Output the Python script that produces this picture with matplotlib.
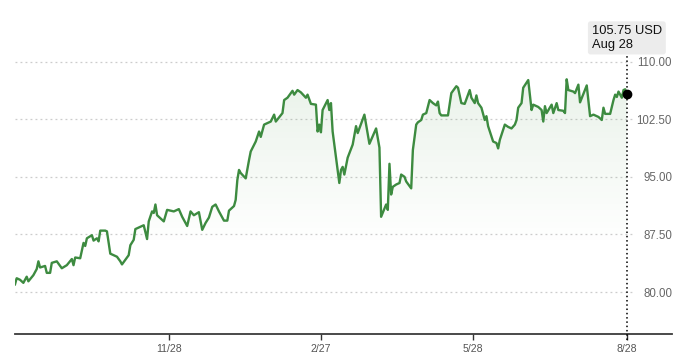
import numpy as np
import pandas as pd
import matplotlib
matplotlib.use("Agg")
import matplotlib.pyplot as plt
import matplotlib.dates as mdates
import matplotlib.transforms as mtransforms
from matplotlib.ticker import FuncFormatter

plt.rcParams['font.family'] = ['Liberation Sans', 'DejaVu Sans']

# data: days since 2023-08-28 and closing price (USD)
start_date = "2023-08-28"
days = [0, 1, 3, 5, 7, 8, 11, 13, 14, 15, 18, 19, 21, 22, 25, 28, 31, 34, 35, 36,
        39, 41, 42, 43, 46, 47, 49, 50, 51, 54, 55, 57, 60, 61, 63, 64, 66, 68, 69, 71,
        72, 75, 77, 79, 80, 82, 83, 84, 85, 89, 91, 95, 98, 100, 103, 105, 107, 110, 112, 114,
        116, 118, 120, 122, 125, 127, 128, 131, 132, 133, 134, 135, 138, 140, 141, 144, 146, 147, 149, 153,
        155, 156, 160, 161, 163, 166, 167, 169, 171, 174, 175, 177, 180, 181, 182, 183, 184, 187, 188, 189,
        190, 194, 195, 196, 197, 199, 202, 204, 205, 209, 212, 216, 218, 219, 222, 223, 224, 225, 226, 228,
        230, 231, 233, 234, 237, 238, 240, 241, 243, 244, 246, 248, 250, 252, 253, 254, 255, 259, 261, 264,
        265, 267, 269, 272, 273, 275, 276, 277, 279, 281, 282, 283, 286, 288, 289, 290, 293, 295, 297, 299,
        300, 301, 303, 304, 307, 309, 310, 313, 315, 316, 317, 318, 321, 322, 324, 325, 328, 329, 330, 331,
        334, 335, 337, 338, 342, 344, 346, 349, 351, 352, 353, 356, 358, 359, 360, 361, 363, 364, 365, 366]
prices = [81.0, 81.8, 81.6, 81.2, 82.0, 81.4, 82.2, 83.0, 84.0, 83.2, 83.4, 82.5, 82.5, 83.8, 84.0, 83.1, 83.5, 84.3, 83.5, 84.5,
          84.4, 86.4, 86.0, 87.0, 87.4, 86.7, 87.0, 86.6, 88.0, 88.0, 87.9, 85.0, 84.7, 84.6, 84.0, 83.6, 84.2, 84.8, 86.1, 86.8,
          88.2, 88.5, 88.7, 86.9, 89.2, 90.5, 90.3, 91.4, 90.0, 89.2, 90.7, 90.5, 90.8, 89.8, 88.6, 90.5, 90.0, 90.4, 88.1, 89.0,
          89.7, 91.1, 91.4, 90.5, 89.3, 89.3, 90.6, 91.2, 92.0, 94.6, 95.9, 95.5, 94.8, 97.2, 98.3, 99.6, 100.9, 100.2, 101.8, 102.2,
          103.1, 102.2, 103.3, 105.0, 105.3, 106.2, 105.7, 106.3, 106.0, 105.3, 105.7, 104.5, 104.4, 100.9, 101.8, 100.8, 103.7, 105.0, 103.7, 104.6,
          100.9, 94.2, 95.9, 96.3, 95.3, 97.5, 99.2, 101.6, 100.7, 103.1, 99.3, 101.3, 98.8, 89.8, 91.4, 90.7, 96.7, 92.7, 93.7, 94.0,
          94.2, 95.3, 95.0, 94.4, 93.5, 98.5, 101.8, 102.1, 102.4, 103.1, 103.3, 105.0, 104.6, 104.3, 104.8, 103.3, 103.0, 103.0, 105.9, 106.8,
          106.6, 104.6, 104.5, 106.3, 105.3, 104.6, 105.6, 104.6, 104.0, 102.4, 102.9, 101.6, 99.6, 99.4, 98.7, 99.8, 101.8, 101.5, 101.3, 101.8,
          102.4, 104.0, 104.6, 106.6, 107.6, 103.7, 104.4, 104.1, 103.7, 102.2, 104.2, 103.3, 104.4, 103.3, 104.6, 103.7, 103.6, 103.3, 107.7, 106.3,
          106.1, 105.9, 107.0, 104.7, 106.9, 102.9, 103.1, 102.8, 102.4, 104.0, 103.2, 103.2, 105.0, 105.7, 105.4, 106.1, 105.3, 106.3, 106.4, 105.75]

tick_dates = ["2023-11-28", "2024-02-27", "2024-05-28", "2024-08-28"]
y_ticks = [80.0, 87.5, 95.0, 102.5, 110.0]
last_label = "105.75 USD\nAug 28"

line_color = "#3d8b40"

x = mdates.date2num((pd.Timestamp(start_date) + pd.to_timedelta(days, unit="D")).to_pydatetime())
y = np.array(prices)
x0 = x[0]
ymin, ymax = 74.54, 115.42

fig = plt.figure(figsize=(6.8, 3.62), dpi=100)
ax = fig.add_axes([15 / 680, 28 / 362, 657 / 680, 314 / 362])
ax.set_xlim(x0, x0 + 393)
ax.set_ylim(ymin, ymax)

# gradient fill under the line
grad = np.zeros((200, 1, 4))
gy = np.linspace(ymin, ymax, 200)
g = np.clip((gy - 86) / (108 - 86), 0, 1)
grad[:, 0, 0] = 0.24
grad[:, 0, 1] = 0.55
grad[:, 0, 2] = 0.25
grad[:, 0, 3] = 0.11 * g
im = ax.imshow(grad, extent=[x[0], x[-1], ymin, ymax], aspect="auto",
               origin="lower", zorder=1)
poly = ax.fill_between(x, y, ymin, color="none", lw=0)
clip = poly.get_paths()[0]
im.set_clip_path(clip, transform=ax.transData)

# dotted grid lines stopping at the last point area
ax.hlines(y_ticks, x0, x[-1] + 3, colors="#cccccc", linestyles=(0, (1.5, 2.5)), lw=0.9, zorder=0)

ax.plot(x, y, color=line_color, lw=1.7, zorder=3, solid_joinstyle="round")

# marker + vertical line at last point
trans = mtransforms.blended_transform_factory(ax.transData, ax.transAxes)
ax.plot([x[-1], x[-1]], [-0.02, 0.892], transform=trans, color="black",
        lw=1.1, ls=(0, (1, 1.8)), clip_on=False, zorder=4)
ax.plot(x[-1], y[-1], "o", color="black", ms=6, zorder=5)
ax.text(x[-1], 0.943, last_label, transform=trans, ha="center", va="center",
        multialignment="left", fontsize=9.3, color="#111111", linespacing=1.15,
        bbox=dict(boxstyle="round,pad=0.3,rounding_size=0.2", fc="#ececec", ec="none"),
        zorder=6)

# axes styling
for s in ["top", "left", "right"]:
    ax.spines[s].set_visible(False)
ax.spines["bottom"].set_color("#3a3a3a")
ax.spines["bottom"].set_linewidth(1.3)

ax.set_xticks(mdates.date2num(pd.to_datetime(tick_dates).to_pydatetime()))
ax.xaxis.set_major_formatter(FuncFormatter(
    lambda v, p: "{}/{}".format(mdates.num2date(v).month, mdates.num2date(v).day)))
ax.tick_params(axis="x", length=4, width=1, color="#333333", labelsize=7.6,
               labelcolor="#555555", pad=3)

ax.yaxis.tick_right()
ax.set_yticks(y_ticks)
ax.set_yticklabels(["{:.2f}".format(v) for v in y_ticks])
ax.tick_params(axis="y", length=0, labelsize=8.3, labelcolor="#666666", pad=0)
for lab in ax.get_yticklabels():
    lab.set_horizontalalignment("right")

fig.savefig("out.png", dpi=100)
